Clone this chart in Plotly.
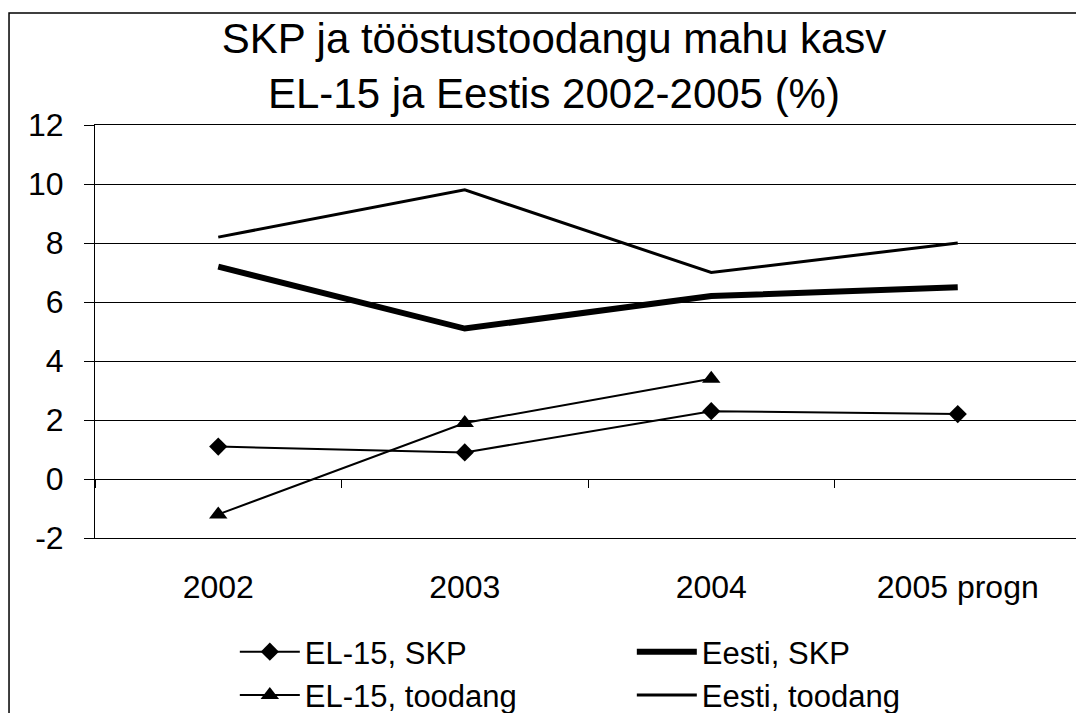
import plotly.graph_objects as go

years = ['2002', '2003', '2004', '2005 progn']

el15_skp = [1.1, 0.9, 2.3, 2.2]
eesti_skp = [7.2, 5.1, 6.2, 6.5]
el15_toodang = [-1.2, 1.9, 3.4, None]
eesti_toodang = [8.2, 9.8, 7.0, 8.0]

y_tick_vals = [-2, 0, 2, 4, 6, 8, 10, 12]
y_tick_text = ['-2', '0', '2', '4', '6', '8', '10', '12']

title_text = 'SKP ja tööstustoodangu mahu kasv<br>EL-15 ja Eestis 2002-2005 (%)'
font_family = 'Liberation Sans, Arial, sans-serif'

fig = go.Figure()

fig.add_trace(go.Scatter(
    x=years, y=el15_skp, name='EL-15, SKP', mode='lines+markers',
    line=dict(color='black', width=2),
    marker=dict(symbol='diamond', size=14, color='black'),
))
fig.add_trace(go.Scatter(
    x=years, y=eesti_skp, name='Eesti, SKP', mode='lines',
    line=dict(color='black', width=6),
))
fig.add_trace(go.Scatter(
    x=years, y=el15_toodang, name='EL-15, toodang', mode='lines+markers',
    line=dict(color='black', width=2),
    marker=dict(symbol='triangle-up', size=16, color='black'),
))
fig.add_trace(go.Scatter(
    x=years, y=eesti_toodang, name='Eesti, toodang', mode='lines',
    line=dict(color='black', width=3),
))
# invisible trace so the zero-line axis knows the categories
fig.add_trace(go.Scatter(
    x=years, y=[None] * len(years), xaxis='x2', mode='lines',
    showlegend=False, hoverinfo='skip',
))

# page body has an 8px margin, so the figure is a bit smaller than the window
fig.update_layout(
    width=1076, height=705,
    margin=dict(l=87, r=3, t=117, b=175, autoexpand=False),
    paper_bgcolor='white', plot_bgcolor='white',
    font=dict(family=font_family, color='black'),
    title=dict(text=title_text, x=0.5074, xanchor='center', y=0.9363, yanchor='top',
               font=dict(size=42, color='black')),
    showlegend=True,
    legend=dict(orientation='h', xref='container', yref='container',
                x=0.2108, xanchor='left', y=0.1248, yanchor='top',
                entrywidth=322, entrywidthmode='pixels', itemwidth=60,
                font=dict(size=31), bgcolor='rgba(0,0,0,0)'),
    xaxis=dict(type='category', categoryorder='array', categoryarray=years,
               range=[-0.5, 3.5], showgrid=False, ticks='',
               showline=True, linecolor='black', linewidth=1, mirror=True,
               tickfont=dict(size=32), ticklabelstandoff=21),
    xaxis2=dict(type='category', categoryorder='array', categoryarray=years,
                range=[-0.5, 3.5], overlaying='x', anchor='free', position=1 / 7,
                showgrid=False, showticklabels=False, ticks='outside',
                tickson='boundaries', ticklen=8, tickcolor='black',
                showline=True, linecolor='black', linewidth=1),
    yaxis=dict(range=[-2, 12], tickvals=y_tick_vals, ticktext=y_tick_text,
               showgrid=True, gridcolor='black', gridwidth=1,
               zeroline=False, ticks='outside', ticklen=10, tickcolor='black',
               showline=True, linecolor='black', linewidth=1, mirror=True,
               tickfont=dict(size=32), ticklabelstandoff=14),
    shapes=[dict(type='rect', xref='paper', yref='paper',
                 x0=-0.0872, x1=1.01, y0=-0.45, y1=1.271,
                 line=dict(color='black', width=1.5), layer='below')],
)

fig.write_html('out.html')
